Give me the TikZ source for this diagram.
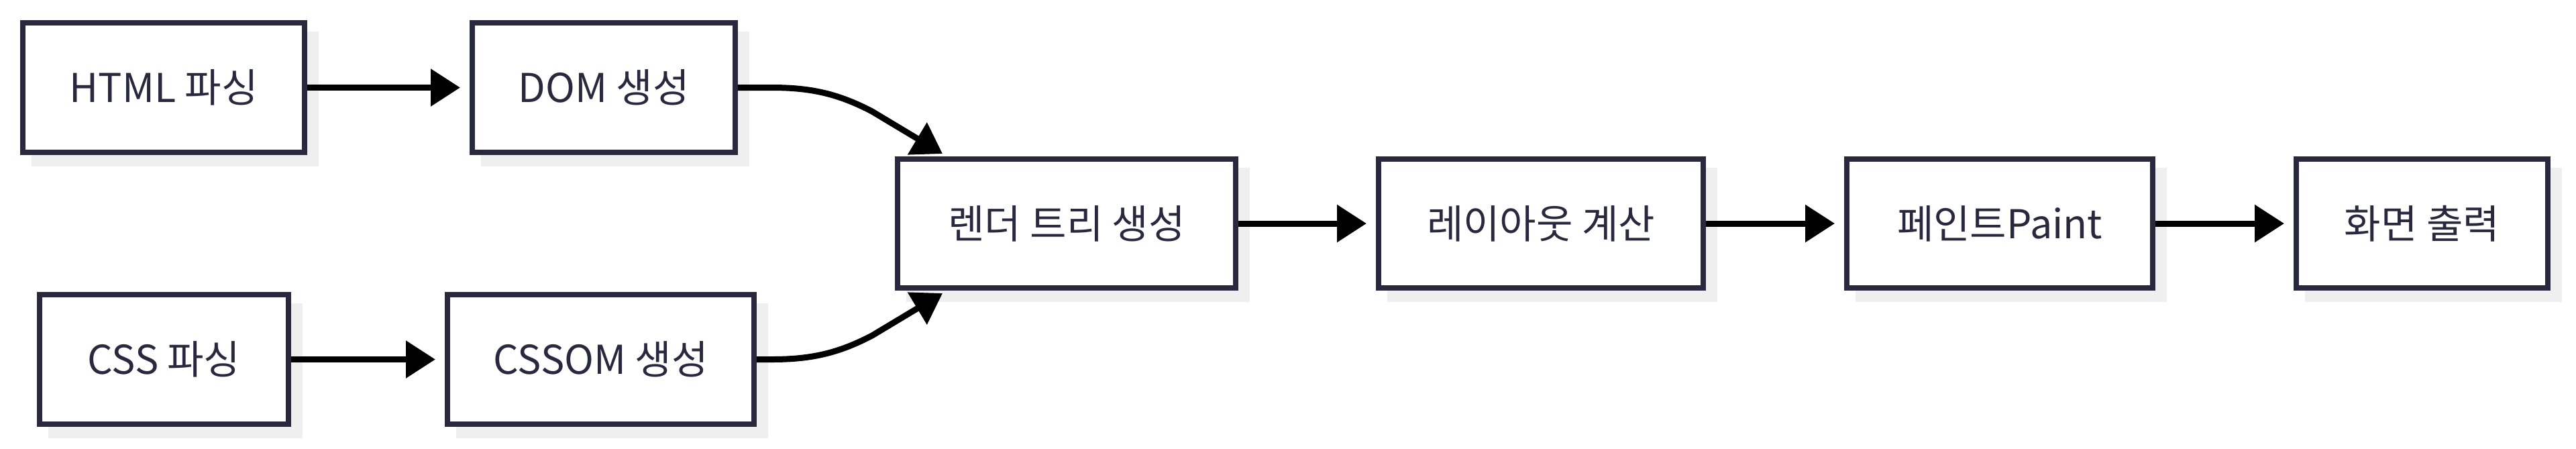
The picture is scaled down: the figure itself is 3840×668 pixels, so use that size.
\documentclass[tikz,border=0pt]{standalone}
\usepackage{fontspec}
\setmainfont{Noto Sans CJK KR}
\usetikzlibrary{arrows.meta,backgrounds,calc}
\definecolor{boxline}{RGB}{40,40,62}
\definecolor{shadowgray}{RGB}{239,239,239}
\begin{document}
\begin{tikzpicture}[x=0.25pt,y=-0.25pt,
  box/.style={draw=boxline,line width=2pt,fill=white,inner sep=0pt,
    minimum height=48pt,text=boxline,font=\fontsize{14.8pt}{18pt}\selectfont},
  arr/.style={line width=2.25pt,-{Triangle[length=11pt,width=13.5pt]}},
  gap/.style={shorten >=3.5pt},
  shadowfill/.style={fill=shadowgray}]
\useasboundingbox (0,0) rectangle (3840,668);
\node[box,minimum width=105pt,minimum height=48.25pt] (html) at (244,130.5) {HTML 파싱};
\node[box,minimum width=98pt,minimum height=48.25pt] (dom) at (900,130.5) {DOM 생성};
\node[box,minimum width=92.75pt,minimum height=48.25pt] (css) at (244.5,535.5) {CSS 파싱};
\node[box,minimum width=114.25pt,minimum height=48.25pt] (cssom) at (895.5,535.5) {CSSOM 생성};
\node[box,minimum width=126pt] (render) at (1590,333) {렌더 트리 생성};
\node[box,minimum width=121pt] (layout) at (2297,333) {레이아웃 계산};
\node[box,minimum width=114pt] (paint) at (2981,333) {페인트Paint};
\node[box,minimum width=93.75pt] (screen) at (3610.5,333) {화면 출력};
\begin{scope}[on background layer]
  \fill[white] (0,0) rectangle (3840,668);
  \foreach \n in {html,dom,css,cssom,render,layout,paint,screen}
    \path[shadowfill] ($(\n.north west)+(17,17)$) rectangle ($(\n.south east)+(17,17)$);
\end{scope}
\coordinate (rtop) at ($(render.north west)+(71,-4)$);
\coordinate (rbot) at ($(render.south west)+(71,4)$);
\draw[arr,gap] (html) -- (dom);
\draw[arr,gap] (css) -- (cssom);
\draw[arr] (dom.east) -- (1150,130.5) .. controls (1210,130.5) and (1250,140) .. (1300,166) -- (rtop);
\draw[arr] (cssom.east) -- (1150,535.5) .. controls (1210,535.5) and (1250,526) .. (1300,500) -- (rbot);
\draw[arr,gap] (render) -- (layout);
\draw[arr,gap] (layout) -- (paint);
\draw[arr,gap] (paint) -- (screen);
\end{tikzpicture}
\end{document}
